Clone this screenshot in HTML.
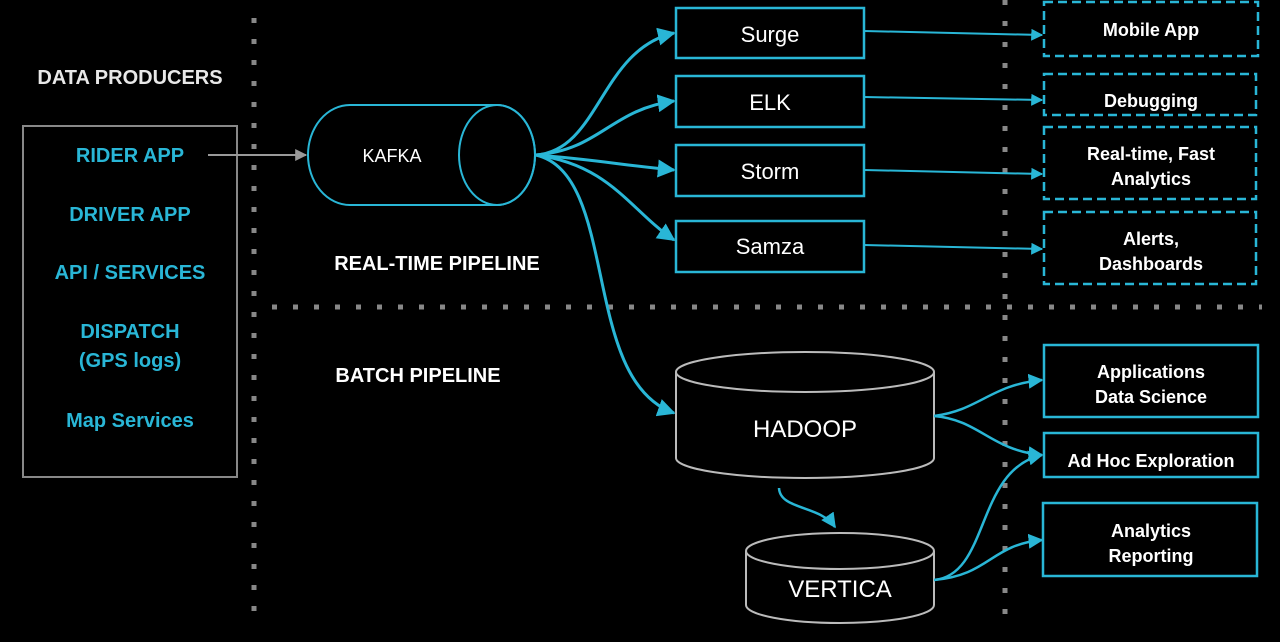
<!DOCTYPE html>
<html><head><meta charset="utf-8"><style>
body{margin:0;background:#000;width:1280px;height:642px;overflow:hidden}
svg{display:block}
text{font-family:"Liberation Sans",sans-serif}
.b{font-weight:bold}
</style></head><body>
<svg width="1280" height="642" viewBox="0 0 1280 642">
<defs>
<marker id="a" viewBox="0 0 10 10" refX="9" refY="5" markerWidth="6" markerHeight="6" orient="auto"><path d="M0,0L10,5L0,10z" fill="#29b6d6"/></marker>
<marker id="g" viewBox="0 0 10 10" refX="9" refY="5" markerWidth="6" markerHeight="6" orient="auto"><path d="M0,0L10,5L0,10z" fill="#999"/></marker>
</defs>
<g stroke="#888" stroke-width="5" stroke-dasharray="5,16">
<line x1="254" y1="18" x2="254" y2="625"/>
<line x1="1005" y1="0" x2="1005" y2="625"/>
<line x1="272" y1="307" x2="1262" y2="307"/>
</g>
<text x="130" y="84" fill="#e8e8e8" font-size="20" text-anchor="middle" class="b">DATA PRODUCERS</text>
<rect x="23" y="126" width="214" height="351" fill="none" stroke="#888" stroke-width="2"/>
<g fill="#29b6d6" font-size="20" class="b" text-anchor="middle">
<text x="130" y="162">RIDER APP</text>
<text x="130" y="221">DRIVER APP</text>
<text x="130" y="279">API / SERVICES</text>
<text x="130" y="338">DISPATCH</text>
<text x="130" y="367">(GPS logs)</text>
<text x="130" y="427">Map Services</text>
</g>
<line x1="208" y1="155" x2="306" y2="155" stroke="#999" stroke-width="2" marker-end="url(#g)"/>
<g fill="none" stroke="#29b6d6" stroke-width="2">
<path d="M350,105 L497,105 A38,50 0 0 1 497,205 L350,205 A42,50 0 0 1 350,105z"/>
<ellipse cx="497" cy="155" rx="38" ry="50"/>
</g>
<text x="392" y="162" fill="#fff" font-size="18" text-anchor="middle">KAFKA</text>
<g fill="none" stroke="#29b6d6" stroke-width="3">
<path d="M536,155 C600,150 600,50 674,33" marker-end="url(#a)"/>
<path d="M536,155 C600,150 610,110 674,101" marker-end="url(#a)"/>
<path d="M536,155 C600,160 620,165 674,170" marker-end="url(#a)"/>
<path d="M536,155 C610,165 630,210 674,240" marker-end="url(#a)"/>
<path d="M536,155 C620,175 580,380 674,413" marker-end="url(#a)"/>
</g>
<g fill="none" stroke="#29b6d6" stroke-width="2.5">
<rect x="676" y="8" width="188" height="50"/>
<rect x="676" y="76" width="188" height="51"/>
<rect x="676" y="145" width="188" height="51"/>
<rect x="676" y="221" width="188" height="51"/>
</g>
<g fill="#fff" font-size="22" text-anchor="middle">
<text x="770" y="42">Surge</text>
<text x="770" y="110">ELK</text>
<text x="770" y="179">Storm</text>
<text x="770" y="254">Samza</text>
</g>
<g fill="none" stroke="#29b6d6" stroke-width="2" marker-end="url(#a)">
<path d="M864,31 L1042,35"/>
<path d="M864,97 L1042,100"/>
<path d="M864,170 L1042,174"/>
<path d="M864,245 L1042,249"/>
</g>
<g fill="none" stroke="#29b6d6" stroke-width="2.5" stroke-dasharray="9,5">
<rect x="1044" y="2" width="214" height="54"/>
<rect x="1044" y="74" width="212" height="41"/>
<rect x="1044" y="127" width="212" height="72"/>
<rect x="1044" y="212" width="212" height="72"/>
</g>
<g fill="#fff" font-size="18" class="b" text-anchor="middle">
<text x="1151" y="36">Mobile App</text>
<text x="1151" y="107">Debugging</text>
<text x="1151" y="160">Real-time, Fast</text>
<text x="1151" y="185">Analytics</text>
<text x="1151" y="245">Alerts,</text>
<text x="1151" y="270">Dashboards</text>
</g>
<text x="437" y="270" fill="#fff" font-size="20" class="b" text-anchor="middle">REAL-TIME PIPELINE</text>
<text x="418" y="382" fill="#fff" font-size="20" class="b" text-anchor="middle">BATCH PIPELINE</text>
<g fill="none" stroke="#bbb" stroke-width="2">
<path d="M676,372 L676,458 A129,20 0 0 0 934,458 L934,372"/>
<ellipse cx="805" cy="372" rx="129" ry="20"/>
<path d="M746,551 L746,605 A94,18 0 0 0 934,605 L934,551"/>
<ellipse cx="840" cy="551" rx="94" ry="18"/>
</g>
<text x="805" y="437" fill="#fff" font-size="24" text-anchor="middle">HADOOP</text>
<text x="840" y="597" fill="#fff" font-size="24" text-anchor="middle">VERTICA</text>
<g fill="none" stroke="#29b6d6" stroke-width="2.5" marker-end="url(#a)">
<path d="M779,488 C780,510 820,505 835,527"/>
<path d="M934,416 C980,410 990,385 1042,380"/>
<path d="M934,416 C980,420 990,450 1042,455"/>
<path d="M934,580 C990,575 975,470 1042,455"/>
<path d="M934,580 C990,575 990,545 1042,540"/>
</g>
<g fill="none" stroke="#29b6d6" stroke-width="2.5">
<rect x="1044" y="345" width="214" height="72"/>
<rect x="1044" y="433" width="214" height="44"/>
<rect x="1043" y="503" width="214" height="73"/>
</g>
<g fill="#fff" font-size="18" class="b" text-anchor="middle">
<text x="1151" y="378">Applications</text>
<text x="1151" y="403">Data Science</text>
<text x="1151" y="467">Ad Hoc Exploration</text>
<text x="1151" y="537">Analytics</text>
<text x="1151" y="562">Reporting</text>
</g>
</svg>
</body></html>
